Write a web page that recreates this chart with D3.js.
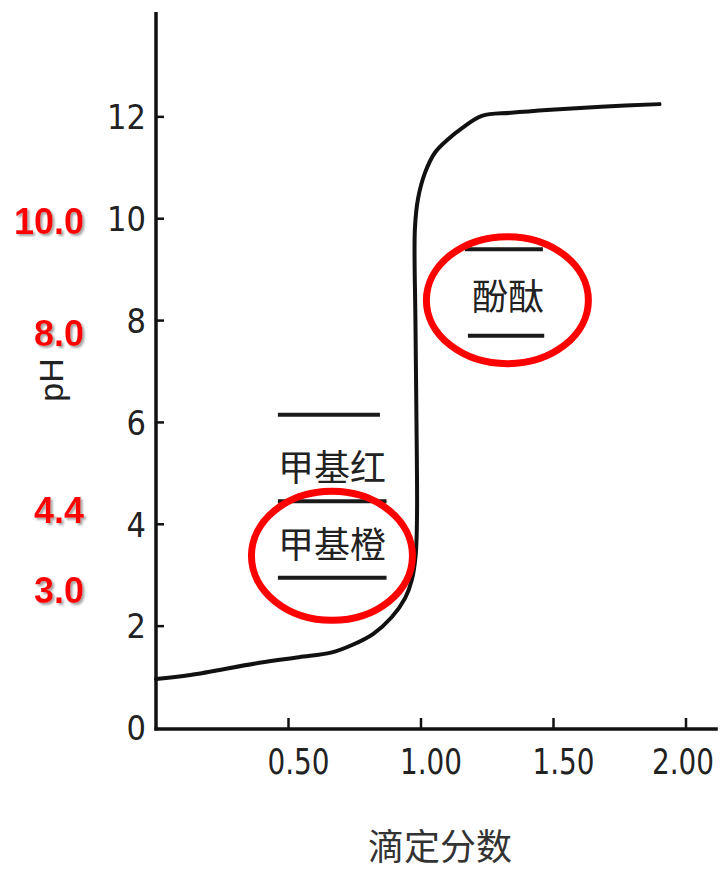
<!DOCTYPE html>
<html>
<head>
<meta charset="utf-8">
<script src="https://cdn.jsdelivr.net/npm/d3@7/dist/d3.min.js"></script>
<style>
  html, body { margin: 0; padding: 0; background: #fff; }
  svg { display: block; }
</style>
</head>
<body>
<svg id="chart" width="723" height="873"></svg>
<script>
// ---- data ----
const xTicks = [0.5, 1.0, 1.5, 2.0];
const xTickLabels = ["0.50", "1.00", "1.50", "2.00"];
const yTicks = [0, 2, 4, 6, 8, 10, 12];
const yTickLabels = ["0", "2", "4", "6", "8", "10", "12"];

// titration curve: titration fraction vs pH
const curveFraction = [0, 0.13, 0.39, 0.54, 0.66, 0.74, 0.82, 0.89, 0.94, 0.965, 0.98, 0.985, 0.983, 0.979, 0.977, 0.989, 1.015, 1.053, 1.10, 1.16, 1.23, 1.34, 1.49, 1.68, 1.90];
const curvePH       = [0.96, 1.04, 1.28, 1.39, 1.48, 1.63, 1.85, 2.18, 2.55, 2.9, 3.4, 4.2, 6.0, 8.0, 9.8, 10.4, 10.9, 11.3, 11.55, 11.8, 12.02, 12.08, 12.14, 12.2, 12.25];

// indicator range lines
const rangeLinePH = [6.15, 4.45, 2.95, 9.4, 7.7];
const rangeLineStart = [0.46, 0.46, 0.46, 1.166, 1.177];
const rangeLineEnd = [0.845, 0.87, 0.87, 1.46, 1.465];

// indicator names
const indicatorNames = ["甲基红", "甲基橙", "酚酞"];
const indicatorX = [0.664, 0.664, 1.328];
const indicatorPH = [5.1, 3.59, 8.46];

// red annotation labels (pH values of transition ranges)
const redLabels = ["10.0", "8.0", "4.4", "3.0"];
const redLabelPH = [9.95, 7.76, 4.28, 2.71];

// circled indicators
const circleX = [0.664, 1.326];
const circlePH = [3.38, 8.40];

const xTitle = "滴定分数";
const yTitle = "pH";

// ---- drawing ----
const W = 723;
const svg = d3.select("#chart");
const x = d3.scaleLinear().domain([0, 2]).range([156, 686]);
const y = d3.scaleLinear().domain([0, 14]).range([728, 15]);

const defs = svg.append("defs");
const f = defs.append("filter").attr("id", "shadow").attr("x", "-20%").attr("y", "-20%").attr("width", "140%").attr("height", "140%");
f.append("feDropShadow").attr("dx", 2).attr("dy", 2).attr("stdDeviation", 0.8).attr("flood-color", "#9a9a9a").attr("flood-opacity", 0.9);

const ink = "#111";

// axes lines
svg.append("line")
  .attr("x1", x(0)).attr("x2", x(0))
  .attr("y1", y(14.06)).attr("y2", y(-0.05))
  .attr("stroke", ink).attr("stroke-width", 3.5);
svg.append("line")
  .attr("x1", x(0) - 1.5).attr("x2", x(2.12))
  .attr("y1", y(-0.02)).attr("y2", y(-0.02))
  .attr("stroke", ink).attr("stroke-width", 3.5);

// y ticks (inward)
svg.selectAll(".ytick").data(yTicks.slice(1)).enter().append("line")
  .attr("x1", x(0)).attr("x2", x(0) + 8)
  .attr("y1", d => y(d)).attr("y2", d => y(d))
  .attr("stroke", ink).attr("stroke-width", 2.5);
svg.selectAll(".ylab").data(yTicks).enter().append("text")
  .attr("x", x(0) - 10)
  .attr("y", d => y(d))
  .attr("dy", "0.36em")
  .attr("text-anchor", "end")
  .attr("font-family", "'Liberation Sans Narrow', 'DejaVu Sans Condensed', 'Liberation Sans', sans-serif")
  .attr("font-size", 34)
  .attr("fill", "#222")
  .text((d, i) => yTickLabels[i]);

// x ticks (inward)
const labelW = 62;
svg.selectAll(".xtick").data(xTicks).enter().append("line")
  .attr("x1", d => x(d)).attr("x2", d => x(d))
  .attr("y1", y(0)).attr("y2", y(0) - 10)
  .attr("stroke", ink).attr("stroke-width", 2.5);
svg.selectAll(".xlab").data(xTicks).enter().append("text")
  .attr("x", d => Math.min(x(d) + 10, W - 9 - labelW / 2))
  .attr("y", y(0) + 46)
  .attr("text-anchor", "middle")
  .attr("font-family", "'Liberation Sans Narrow', 'DejaVu Sans Condensed', 'Liberation Sans', sans-serif")
  .attr("font-size", 36)
  .attr("textLength", labelW)
  .attr("lengthAdjust", "spacingAndGlyphs")
  .attr("fill", "#222")
  .text((d, i) => xTickLabels[i]);

// titration curve
const pts = curveFraction.map((v, i) => [v, curvePH[i]]);
svg.append("path")
  .datum(pts)
  .attr("d", d3.line().x(d => x(d[0])).y(d => y(d[1])).curve(d3.curveCatmullRom.alpha(0.5)))
  .attr("fill", "none")
  .attr("stroke", ink)
  .attr("stroke-width", 4)
  .attr("stroke-linejoin", "round")
  .attr("stroke-linecap", "round");

// indicator range lines
svg.selectAll(".rline").data(rangeLinePH).enter().append("line")
  .attr("x1", (d, i) => x(rangeLineStart[i]))
  .attr("x2", (d, i) => x(rangeLineEnd[i]))
  .attr("y1", d => y(d)).attr("y2", d => y(d))
  .attr("stroke", "#1a1a1a").attr("stroke-width", 4);

// indicator names
svg.selectAll(".ind").data(indicatorNames).enter().append("text")
  .attr("x", (d, i) => x(indicatorX[i]))
  .attr("y", (d, i) => y(indicatorPH[i]))
  .attr("dy", "0.36em")
  .attr("text-anchor", "middle")
  .attr("font-family", "'Noto Sans CJK SC', sans-serif")
  .attr("font-size", 36)
  .attr("fill", "#222")
  .text(d => d);

// red ellipses
svg.selectAll(".ell").data(circleX).enter().append("ellipse")
  .attr("cx", d => x(d))
  .attr("cy", (d, i) => y(circlePH[i]))
  .attr("rx", (d, i) => i === 0 ? 80.5 : 81)
  .attr("ry", (d, i) => i === 0 ? 64.5 : 63.5)
  .attr("fill", "none")
  .attr("stroke", "#ff0000")
  .attr("stroke-width", 7);

// red labels
svg.selectAll(".red").data(redLabels).enter().append("text")
  .attr("x", 84)
  .attr("y", (d, i) => y(redLabelPH[i]))
  .attr("dy", "0.36em")
  .attr("text-anchor", "end")
  .attr("font-family", "'Liberation Sans', Arial, sans-serif")
  .attr("font-weight", "bold")
  .attr("font-size", 36)
  .attr("fill", "#ff0000")
  .attr("filter", "url(#shadow)")
  .text(d => d);

// axis titles
svg.append("text")
  .attr("transform", "translate(53,380) rotate(-90)")
  .attr("text-anchor", "middle")
  .attr("dy", "0.3em")
  .attr("font-family", "'Liberation Sans', sans-serif")
  .attr("font-size", 34)
  .attr("fill", "#222")
  .text(yTitle);

svg.append("text")
  .attr("x", 440)
  .attr("y", 847)
  .attr("dy", "0.36em")
  .attr("text-anchor", "middle")
  .attr("font-family", "'Noto Sans CJK SC', sans-serif")
  .attr("font-size", 36)
  .attr("fill", "#333")
  .text(xTitle);
</script>
</body>
</html>
